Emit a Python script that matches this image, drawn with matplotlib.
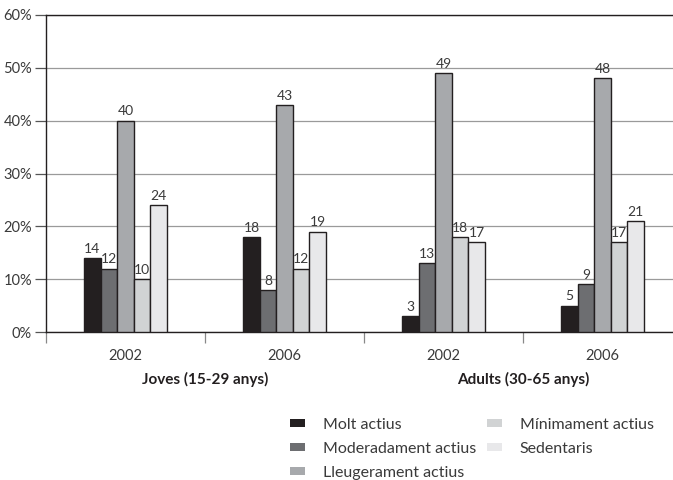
import numpy as np
import matplotlib.pyplot as plt
from matplotlib.patches import Patch

plt.rcParams['font.family'] = ['Lato', 'DejaVu Sans']

years = ["2002", "2006", "2002", "2006"]
groups = ["Joves (15-29 anys)", "Adults (30-65 anys)"]
series = ["Molt actius", "Moderadament actius", "Lleugerament actius",
          "Mínimament actius", "Sedentaris"]
molt = [14, 18, 3, 5]
moderat = [12, 8, 13, 9]
lleuger = [40, 43, 49, 48]
minim = [10, 12, 18, 17]
sedent = [24, 19, 17, 21]
values = [molt, moderat, lleuger, minim, sedent]
colors = ["#231f20", "#6d6e71", "#a7a9ac", "#d1d3d4", "#e8e8ea"]
txt = "#3a3a3a"

fig = plt.figure(figsize=(6.73, 4.8), dpi=100)
# axes runs a little past the right edge of the figure
ax = fig.add_axes([46 / 673, 1 - 332 / 480, 636 / 673, 317 / 480])

x = np.arange(len(years))
w = 0.104
for i, (vals, c) in enumerate(zip(values, colors)):
    pos = x + (i - 2) * w
    ax.bar(pos, vals, width=w, color=c, edgecolor="#231f20", linewidth=1, zorder=3)
    for p, v in zip(pos, vals):
        ax.text(p, v + 0.6, str(v), ha="center", va="bottom",
                fontsize=10, color=txt, zorder=4)

ax.set_xlim(-0.5, len(years) - 0.5)
ax.set_ylim(0, 60)
ax.set_yticks(range(0, 61, 10))
ax.set_yticklabels([f"{t}%" for t in range(0, 61, 10)], fontsize=10.5, color=txt)
ax.yaxis.grid(True, color="#9a9a9a", linewidth=0.9, zorder=0)
ax.tick_params(axis="y", length=8, width=0.9, color="#555555", pad=2)

ax.set_xticks(x)
ax.set_xticklabels(years, fontsize=10.5, color=txt)
ax.tick_params(axis="x", which="major", length=0, pad=12)
ax.set_xticks(np.arange(-0.5, len(years), 1.0), minor=True)
ax.tick_params(axis="x", which="minor", length=8, width=0.9, color="#888888")

for s in ["left", "bottom", "top"]:
    ax.spines[s].set_color("#231f20")
    ax.spines[s].set_linewidth(1)
ax.spines["right"].set_visible(False)

for gi, g in enumerate(groups):
    ax.text(gi * 2 + 0.5, -9.0, g, ha="center", va="center", fontsize=11,
            fontweight="bold", color="#231f20")

handles = [Patch(facecolor=c, edgecolor="none") for c in colors]
leg = fig.legend(handles, series, loc="upper left",
                 bbox_to_anchor=(282 / 673, 1 - 410 / 480),
                 ncol=2, frameon=False, fontsize=11.5, handlelength=0.95, handleheight=0.4,
                 handletextpad=1.1, labelspacing=0.62, columnspacing=0.7,
                 borderpad=0.0, labelcolor=txt)

fig.savefig("out.png", dpi=100)
